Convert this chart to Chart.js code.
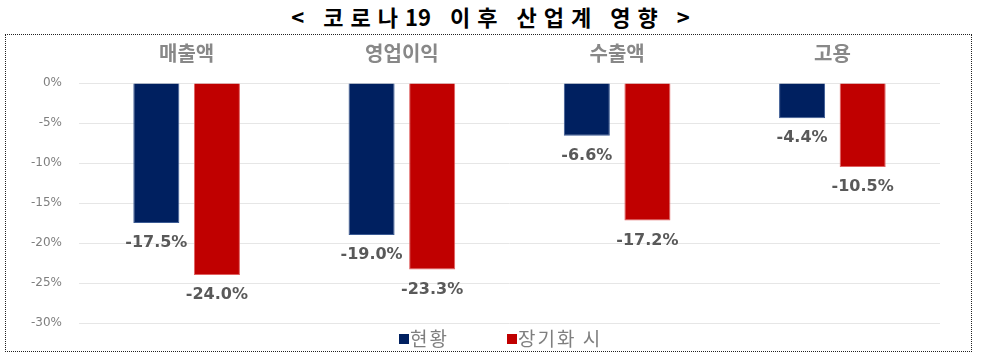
<!DOCTYPE html>
<html><head><meta charset="utf-8">
<script src="https://cdn.jsdelivr.net/npm/chart.js@4"></script>
<style>
body{margin:0;width:981px;height:358px;background:#fff;position:relative;overflow:hidden;font-family:"Noto Sans CJK KR",sans-serif;}
#title{position:absolute;top:0;left:0;width:981px;padding-left:7px;box-sizing:border-box;text-align:center;font-weight:bold;font-size:22px;line-height:32px;color:#000;letter-spacing:7px;}
#title .n{letter-spacing:0;}
#box{position:absolute;left:5px;top:34px;width:967px;height:318px;border:1px dotted #222;box-sizing:border-box;}
#wrap{position:absolute;left:0;top:0;width:981px;height:358px;}
#legend{position:absolute;top:325px;left:399px;font-size:19px;line-height:26px;color:#7f7f7f;letter-spacing:2px;white-space:nowrap;}
#legend span.item{display:inline-block;}
#legend span.item + span.item{margin-left:58px;}
#legend i{display:inline-block;width:10px;height:10px;margin-right:1px;vertical-align:middle;position:relative;top:-2px;}
</style></head><body>
<div id="title">&lt; 코로나<span class="n">1</span>9 이후 산업계 영향 &gt;</div>
<div id="box"></div>
<div id="wrap"><canvas id="c" width="981" height="358"></canvas></div>
<div id="legend"></div>
<script>
const categories = ["매출액", "영업이익", "수출액", "고용"];
const seriesNames = ["현황", "장기화 시"];
const current = [-17.5, -19.0, -6.6, -4.4];
const prolonged = [-24.0, -23.3, -17.2, -10.5];
const colors = ["#002060", "#C00000"];

const labelPlugin = {
  id: 'valueLabels',
  afterDatasetsDraw(chart) {
    const ctx = chart.ctx;
    ctx.save();
    ctx.font = 'bold 16px "DejaVu Sans", sans-serif';
    ctx.fillStyle = '#595959';
    ctx.textAlign = 'center';
    ctx.textBaseline = 'middle';
    chart.data.datasets.forEach((ds, i) => {
      chart.getDatasetMeta(i).data.forEach((el, j) => {
        ctx.fillText(ds.data[j].toFixed(1) + '%', el.x, el.y + 20);
      });
    });
    ctx.restore();
  }
};

new Chart(document.getElementById('c'), {
  type: 'bar',
  data: {
    labels: categories,
    datasets: [
      {label: seriesNames[0], data: current, backgroundColor: colors[0], borderColor: '#3b5a93', borderWidth: 1},
      {label: seriesNames[1], data: prolonged, backgroundColor: colors[1], borderColor: '#e06060', borderWidth: 1}
    ]
  },
  plugins: [labelPlugin],
  options: {
    responsive: false,
    animation: false,
    categoryPercentage: 0.563,
    barPercentage: 0.76,
    layout: {padding: {left: 0, right: 41, top: 0, bottom: 35}},
    plugins: {legend: {display: false}, tooltip: {enabled: false}},
    scales: {
      x: {
        position: 'top',
        grid: {display: false},
        border: {display: false},
        ticks: {font: {family: '"Noto Sans CJK KR", sans-serif', size: 20, weight: 'bold'}, color: '#888888', padding: 10},
        afterFit: s => { s.height = 83; }
      },
      y: {
        min: -30, max: 0,
        ticks: {stepSize: 5, callback: v => v + '%', font: {family: '"DejaVu Sans", sans-serif', size: 12}, color: '#7f7f7f', padding: 17},
        grid: {color: '#e6e6e6', drawTicks: false},
        border: {display: false},
        afterFit: s => { s.width = 79; }
      }
    }
  }
});

const lg = document.getElementById('legend');
seriesNames.forEach((n, i) => {
  const s = document.createElement('span');
  s.className = 'item';
  const b = document.createElement('i');
  b.style.background = colors[i];
  s.appendChild(b);
  s.appendChild(document.createTextNode(n));
  lg.appendChild(s);
});
</script>
</body></html>
